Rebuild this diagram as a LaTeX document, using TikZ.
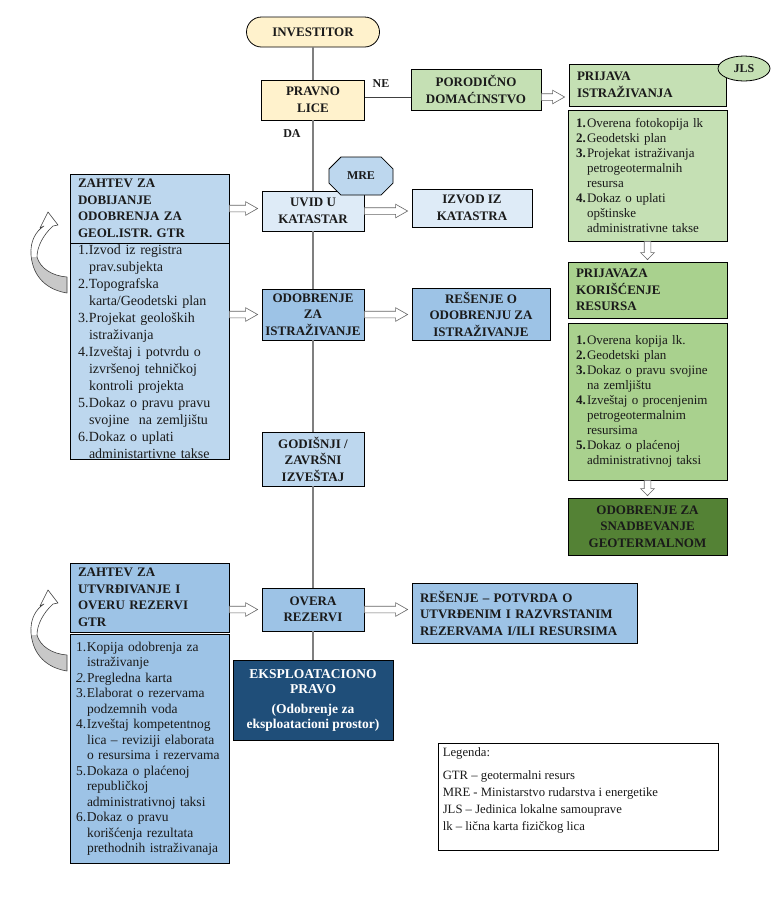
\documentclass[tikz,border=0pt]{standalone}
\usepackage{fontspec}
\setmainfont{Liberation Serif}
\usetikzlibrary{shapes.misc,shapes.geometric,calc}

\definecolor{cream}{HTML}{FFF2CC}
\definecolor{gLight}{HTML}{C5E0B4}
\definecolor{gMed}{HTML}{A9D18E}
\definecolor{gDark}{HTML}{548235}
\definecolor{bPale}{HTML}{DEEBF7}
\definecolor{bLight}{HTML}{BDD7EE}
\definecolor{bMed}{HTML}{9DC3E6}
\definecolor{bDark}{HTML}{1F4E79}
\definecolor{lineGray}{HTML}{7F7F7F}
\definecolor{txt}{HTML}{1A1A1A}
\definecolor{arrowGray}{HTML}{C8C8C8}

\newcommand\hdfont{\bfseries\fontsize{13}{16.5}\selectfont}
\newcommand\lsR{\fontsize{13}{15}\selectfont}
\newcommand\lsL{\fontsize{14}{17}\selectfont}
\newcommand\lsB{\fontsize{13.5}{15.5}\selectfont}
\newcommand\nb[1]{\makebox[11pt][l]{#1}}
\newcommand\indt{\hspace*{11pt}}

% hollow horizontal arrow from point #1 towards point #2 (y of #1)
\newcommand\harrow[2]{\path[harr] let \p1=#1, \p2=#2 in
  (\x1,\y1+3.3pt) -- (\x2-16pt,\y1+3.3pt) -- (\x2-16pt,\y1+6.8pt) -- (\x2-4pt,\y1)
  -- (\x2-16pt,\y1-6.8pt) -- (\x2-16pt,\y1-3.3pt) -- (\x1,\y1-3.3pt) -- cycle;}
% hollow downward arrow
\newcommand\varrow[2]{\path[harr] let \p1=#1, \p2=#2 in
  (\x1-3.3pt,\y1) -- (\x1-3.3pt,\y2+9pt) -- (\x1-6.8pt,\y2+9pt) -- (\x1,\y2+2pt)
  -- (\x1+6.8pt,\y2+9pt) -- (\x1+3.3pt,\y2+9pt) -- (\x1+3.3pt,\y1) -- cycle;}
% curved decorative arrow
\newcommand\bendarrow[1]{%
\begin{scope}[shift={(0,#1)}]
  \fill[white] (67,293) .. controls (48,290) and (33,278) .. (31,255) .. controls (30,241) and (36,231) .. (44,226) -- (40,228) -- (48,212) -- (58,225) -- (53,226) .. controls (43,235) and (37,247) .. (37,257) .. controls (40,268) and (52,276) .. (67,277) -- cycle;
  \begin{scope}
    \clip (20,257) rectangle (70,300);
    \fill[arrowGray] (67,293) .. controls (48,290) and (33,278) .. (31,255) .. controls (30,241) and (36,231) .. (44,226) -- (40,228) -- (48,212) -- (58,225) -- (53,226) .. controls (43,235) and (37,247) .. (37,257) .. controls (40,268) and (52,276) .. (67,277) -- cycle;
  \end{scope}
  \draw[black!75, line width=0.6pt, line join=round] (67,293) .. controls (48,290) and (33,278) .. (31,255) .. controls (30,241) and (36,231) .. (44,226) -- (40,228) -- (48,212) -- (58,225) -- (53,226) .. controls (43,235) and (37,247) .. (37,257) .. controls (40,268) and (52,276) .. (67,277) -- cycle;
\end{scope}}

\begin{document}
\begin{tikzpicture}[x=1pt,y=-1pt,
  box/.style={draw=black, line width=0.8pt, rectangle, inner sep=1pt, text=txt},
  cbox/.style={box, align=center, font=\hdfont},
  lbox/.style={box, align=left, font=\hdfont, inner xsep=8pt},
  conn/.style={draw=lineGray, line width=1.2pt},
  darkline/.style={draw=black!75, line width=1pt},
  harr/.style={draw=black!60, fill=white, line width=0.6pt, line join=miter},
  lbl/.style={font=\bfseries\fontsize{12}{12}\selectfont, text=txt, inner sep=0pt}]

\fill[white] (0,0) rectangle (772,898);
\useasboundingbox (0,0) rectangle (772,898);

% ---------- top ----------
\node[cbox, fill=cream, rounded corners=15pt, minimum width=133pt, minimum height=30pt] (inv) at (313,32) {INVESTITOR};
\node[cbox, fill=cream, minimum width=103pt, minimum height=40pt] (pravno) at (313,100) {PRAVNO\\LICE};
\node[cbox, fill=gLight, minimum width=130pt, minimum height=41pt] (porod) at (476,89.5) {PORODIČNO\\DOMAĆINSTVO};
\node[lbox, fill=gLight, text width=141pt, minimum height=42pt] (prij) at (647.5,85) {PRIJAVA\\ISTRAŽIVANJA};
\node[draw=black, line width=0.8pt, ellipse, fill=gLight, minimum width=52pt, minimum height=25pt, inner sep=0pt, font=\bfseries\fontsize{12}{12}\selectfont, text=txt] (jls) at (744,68.5) {JLS};
\node[lbl] (ne) at (381,84) {NE};
\node[lbl] (da) at (292,134) {DA};
\coordinate (yl) at (0,97);

% ---------- right column ----------
\node[lbox, font=\lsR, fill=gLight, text width=143pt, minimum height=131pt] (rl1) at (647.5,175.5) {%
\nb{\textbf{1.}}Overena fotokopija lk\\
\nb{\textbf{2.}}Geodetski plan\\
\nb{\textbf{3.}}Projekat istraživanja\\
\indt petrogeotermalnih\\
\indt resursa\\
\nb{\textbf{4.}}Dokaz o uplati\\
\indt opštinske\\
\indt administrativne takse};
\node[lbox, fill=gMed, text width=143pt, minimum height=56pt] (prijkor) at (647.5,290) {PRIJAVAZA\\KORIŠĆENJE\\RESURSA};
\node[lbox, font=\lsR, fill=gMed, text width=143pt, minimum height=157pt] (rl2) at (647.5,401.5) {%
\nb{\textbf{1.}}Overena kopija lk.\\
\nb{\textbf{2.}}Geodetski plan\\
\nb{\textbf{3.}}Dokaz o pravu svojine\\
\indt na zemljištu\\
\nb{\textbf{4.}}Izveštaj o procenjenim\\
\indt petrogeotermalnim\\
\indt resursima\\
\nb{\textbf{5.}}Dokaz o plaćenoj\\
\indt administrativnoj taksi};
\node[cbox, fill=gDark, minimum width=159pt, minimum height=57pt] (odobsn) at (647.5,526.5) {ODOBRENJE ZA\\SNADBEVANJE\\GEOTERMALNOM};

% ---------- left column ----------
\node[lbox, fill=bLight, text width=143pt, minimum height=69pt] (zah1) at (149.5,208.5) {ZAHTEV ZA\\DOBIJANJE\\ODOBRENJA ZA\\GEOL.ISTR. GTR};
\node[lbox, font=\lsL, fill=bLight, text width=143pt, minimum height=209pt] (ll1) at (149.5,351.5) {%
\nb{1.}Izvod iz registra\\
\indt prav.subjekta\\
\nb{2.}Topografska\\
\indt karta/Geodetski plan\\
\nb{3.}Projekat geoloških\\
\indt istraživanja\\
\nb{4.}Izveštaj i potvrdu o\\
\indt izvršenoj tehničkoj\\
\indt kontroli projekta\\
\nb{5.}Dokaz o pravu pravu\\
\indt svojine\ \ na zemljištu\\
\nb{6.}Dokaz o uplati\\
\indt administartivne takse};
\node[lbox, fill=bMed, text width=143pt, minimum height=69pt] (zah2) at (149.5,597.5) {ZAHTEV ZA\\UTVRĐIVANJE I\\OVERU REZERVI\\GTR};
\node[lbox, font=\lsB, fill=bMed, inner xsep=6pt, text width=147pt, minimum height=229pt] (ll2) at (149.5,748.5) {%
\nb{1.}Kopija odobrenja za\\
\indt istraživanje\\
\nb{\textit{2.}}Pregledna karta\\
\nb{3.}Elaborat o rezervama\\
\indt podzemnih voda\\
\nb{4.}Izveštaj kompetentnog\\
\indt lica – reviziji elaborata\\
\indt\mbox{o resursima i rezervama}\\
\nb{5.}Dokaza o plaćenoj\\
\indt republičkoj\\
\indt administrativnoj taksi\\
\nb{6.}Dokaz o pravu\\
\indt korišćenja rezultata\\
\indt prethodnih istraživanaja};

% ---------- centre column ----------
\node[cbox, fill=bPale, minimum width=102pt, minimum height=40pt] (uvid) at (313,211) {UVID U\\KATASTAR};
\node[draw=black, line width=0.8pt, chamfered rectangle, chamfered rectangle xsep=11pt, chamfered rectangle ysep=8pt, fill=bLight, minimum width=64pt, minimum height=38pt, inner sep=0pt, font=\bfseries\fontsize{12}{12}\selectfont, text=txt] (mre) at (361,176) {MRE};
\node[cbox, fill=bPale, minimum width=120pt, minimum height=38pt] (izvod) at (472,208) {IZVOD IZ\\KATASTRA};
\node[cbox, fill=bMed, minimum width=102pt, minimum height=51pt] (odob) at (313,314.5) {ODOBRENJE\\ZA\\ISTRAŽIVANJE};
\node[cbox, fill=bMed, minimum width=138pt, minimum height=52pt] (res) at (481,314) {REŠENJE O\\ODOBRENJU ZA\\ISTRAŽIVANJE};
\node[cbox, fill=bLight, minimum width=102pt, minimum height=54pt] (god) at (313,459) {GODIŠNJI /\\ZAVRŠNI\\IZVEŠTAJ};
\node[cbox, fill=bMed, minimum width=102pt, minimum height=43pt] (overa) at (313,609.5) {OVERA\\REZERVI};
\node[lbox, fill=bMed, text width=209pt, minimum height=60pt] (potv) at (524.5,613) {REŠENJE – POTVRDA O\\UTVRĐENIM I RAZVRSTANIM\\REZERVAMA I/ILI RESURSIMA};
\node[cbox, fill=bDark, text=white, font=\bfseries\fontsize{13.5}{15}\selectfont, minimum width=160pt, minimum height=80pt] (eksp) at (313,700) {EKSPLOATACIONO\\PRAVO\\[5pt](Odobrenje za\\eksploatacioni prostor)};

% ---------- legend ----------
\node[draw=black, line width=0.8pt, minimum width=280pt, minimum height=107pt, inner sep=0pt] (leg) at (578,796.5) {};
\node[anchor=north west, align=left, inner sep=0pt, text=txt, font=\fontsize{12.7}{17}\selectfont] (legtxt) at ($(leg.north west)+(5,5)$) {Legenda:\\[6pt]
GTR – geotermalni resurs\\
MRE - Ministarstvo rudarstva i energetike\\
JLS – Jedinica lokalne samouprave\\
lk – lična karta fizičkog lica};

% ---------- connectors ----------
\draw[conn] (inv) -- (pravno);
\draw[conn] (pravno) -- (uvid);
\draw[conn] (uvid) -- (odob);
\draw[conn] (odob) -- (god);
\draw[conn] (god) -- (overa);
\draw[conn] (overa) -- (eksp);
\draw[darkline] (pravno.east |- yl) -- (porod.west |- yl);

\harrow{(porod.east |- yl)}{(prij.west |- yl)}
\harrow{(zah1.east)}{(uvid.west)}
\harrow{(uvid.east)}{(izvod.west)}
\harrow{(ll1.east |- odob.west)}{(odob.west)}
\harrow{(odob.east)}{(res.west)}
\harrow{(zah2.east |- overa.west)}{(overa.west)}
\harrow{(overa.east)}{(potv.west |- overa.east)}
\varrow{(rl1.south)}{(prijkor.north)}
\varrow{(rl2.south)}{(odobsn.north)}

% ---------- curved arrows ----------
\bendarrow{0}
\bendarrow{378}

\end{tikzpicture}
\end{document}
